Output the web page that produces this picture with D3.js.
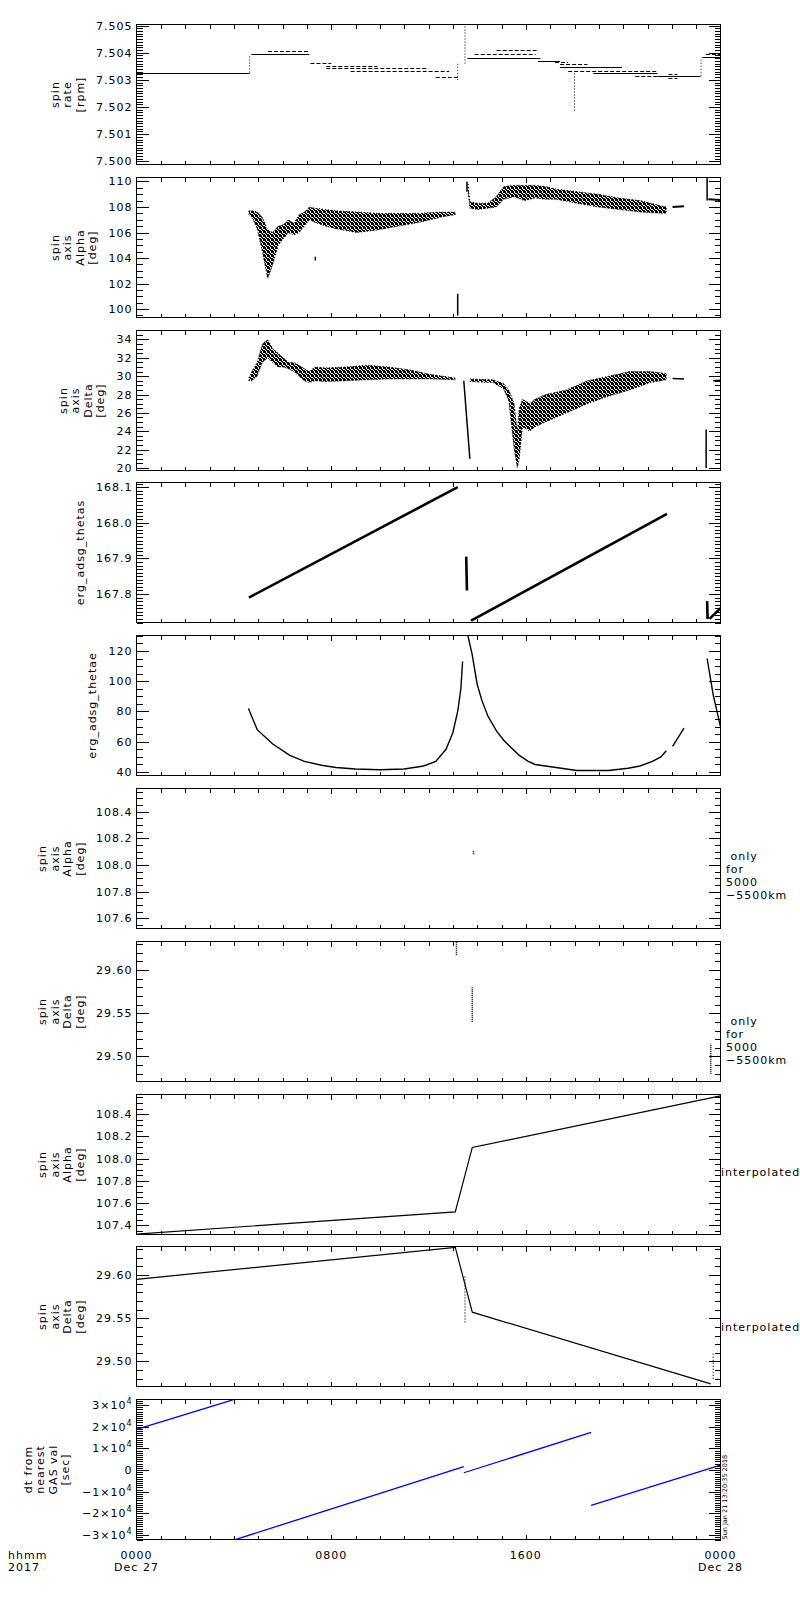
<!DOCTYPE html>
<html><head><meta charset="utf-8">
<script src="https://cdn.jsdelivr.net/npm/d3@7/dist/d3.min.js"></script>
<style>
html,body{margin:0;padding:0;background:#fff;}
svg text{font-family:"DejaVu Sans",sans-serif;fill:#000;}
</style></head><body>
<svg id="chart" width="800" height="1600"></svg>
<script>
// ---------------- data ----------------
const xTickHours = [0, 8, 16, 24];
const xTickTimes = ["0000", "0800", "1600", "0000"];
const xTickDates = ["Dec 27", "", "", "Dec 28"];

// panel 1: spin rate [rpm]
const rateTicks = [7.500, 7.501, 7.502, 7.503, 7.504, 7.505];
const rateSolid = [ // [startHour, endHour, rpm]
  [0, 4.65, 7.50327], [4.72, 7.10, 7.50394], [13.6, 16.6, 7.50381], [16.5, 17.4, 7.50370],
  [17.4, 19.95, 7.50346], [18.77, 21.41, 7.50324], [21.41, 23.18, 7.50315], [23.26, 24, 7.50383]
];
const rateBroken = [
  [5.4, 7.1, 7.50405], [7.15, 8.0, 7.50362], [7.8, 9.9, 7.50352], [7.8, 12.0, 7.50344],
  [8.8, 12.85, 7.50333], [12.3, 13.2, 7.50312], [13.9, 16.4, 7.50394], [14.8, 16.5, 7.50410],
  [17.41, 18.53, 7.50358], [17.2, 17.74, 7.50365], [17.74, 21.41, 7.50333], [20.5, 21.41, 7.50316],
  [21.86, 22.23, 7.50321], [21.86, 22.23, 7.50305], [23.4, 24, 7.50396]
];
const rateJumps = [ // [hour, low rpm, high rpm]
  [4.65, 7.50327, 7.50394], [13.2, 7.50300, 7.50360], [13.5, 7.50360, 7.50504],
  [18.0, 7.50187, 7.50328], [23.2, 7.50315, 7.50383]
];

// panel 2: spin axis Alpha [deg]  (band: [hour, low, high])
const alphaTicks = [100, 102, 104, 106, 108, 110];
const alphaBandA = [
  [4.62,107.4,107.7],[4.75,107.2,107.7],[4.96,106.3,107.6],[5.17,104.5,107.2],[5.39,102.4,106.2],
  [5.6,103.5,106.0],[5.82,105.0,106.5],[6.03,105.5,106.6],[6.25,106.0,107.0],[6.47,105.8,106.7],
  [6.68,106.0,107.4],[6.9,106.5,107.6],[7.11,107.0,108.0],[7.33,106.8,107.9],[7.76,106.5,107.8],
  [8.19,106.3,107.7],[9.05,106.0,107.6],[9.91,106.2,107.5],[10.78,106.5,107.5],[11.64,106.8,107.5],
  [12.5,107.2,107.6],[13.1,107.4,107.6]
];
const alphaBandB = [
  [13.62,109.3,109.8],[13.7,107.9,108.4],[14.0,107.8,108.3],[14.44,107.9,108.3],[14.78,108.0,108.8],
  [15.09,108.6,109.6],[15.52,108.8,109.7],[15.95,108.5,109.7],[16.38,108.7,109.7],[16.81,108.6,109.6],
  [17.24,108.6,109.4],[18.1,108.3,109.2],[18.97,108.0,109.0],[19.83,107.8,108.7],[20.69,107.6,108.5],
  [21.55,107.5,108.1],[21.77,107.5,108.0]
];
const alphaPieces = [[[22.03,108.0],[22.5,108.05]], [[23.5,108.6],[24,108.55]]];
const alphaJumps = [[13.2, 99.5, 101.2], [13.58, 109.2, 110.0], [23.45, 108.5, 110.3], [7.35, 103.8, 104.1]];

// panel 3: spin axis Delta [deg]
const deltaTicks = [20, 22, 24, 26, 28, 30, 32, 34];
const deltaBandA = [
  [4.62,29.5,29.8],[4.74,29.5,30.5],[4.96,30.0,31.5],[5.17,31.5,33.5],[5.39,32.0,34.0],[5.6,31.5,33.0],
  [5.82,31.0,32.5],[6.03,31.0,32.0],[6.25,30.8,31.5],[6.47,30.5,31.5],[6.68,30.0,31.2],[6.9,29.5,30.8],
  [7.11,29.3,30.5],[7.33,29.5,31.0],[7.76,29.4,30.9],[8.62,29.5,31.0],[9.48,29.6,31.2],[10.34,29.7,31.0],
  [11.21,29.7,30.7],[12.07,29.7,30.2],[13.1,29.6,29.8]
];
const deltaBandB = [
  [13.71,29.4,29.7],[14.66,29.3,29.6],[15.09,28.6,29.2],[15.3,27.3,28.5],[15.52,22.0,27.0],[15.65,20.0,24.0],
  [15.73,21.0,26.5],[15.86,24.5,27.5],[16.16,24.0,27.0],[16.38,24.5,27.5],[16.81,25.0,28.0],[17.67,26.0,28.5],
  [18.53,27.0,29.5],[19.4,27.8,30.0],[20.26,28.5,30.5],[21.12,29.3,30.5],[21.77,29.6,30.3]
];
const deltaPieces = [[[13.45,29.5],[13.7,21.0]], [[22.03,29.75],[22.5,29.7]], [[23.7,29.5],[24,29.55]]];
const deltaJumps = [[23.41, 20.0, 24.2]];

// panel 4: erg_adsg_thetas
const thetasTicks = [167.8, 167.9, 168.0, 168.1];
const thetasPieces = [
  [[4.62,167.79],[13.2,168.10]], [[13.55,167.905],[13.58,167.81]],
  [[13.75,167.725],[21.8,168.025]], [[23.45,167.78],[23.47,167.73]], [[23.55,167.73],[24,167.76]]
];

// panel 5: erg_adsg_thetae
const thetaeTicks = [40, 60, 80, 100, 120];
const thetaePieces = [
  [[4.6,82],[4.96,68],[5.6,58.5],[6.3,51],[6.9,47],[7.6,44.5],[8.2,43],[9.0,42],[10.0,41.5],[11.0,42],
   [11.8,44],[12.3,47],[12.72,55],[13.0,66],[13.2,80],[13.33,95],[13.4,113]],
  [[13.62,130],[13.79,118],[14.0,98],[14.2,87],[14.44,77],[14.8,67],[15.09,61],[15.4,56],[15.73,51],
   [16.1,47],[16.38,45],[17.24,43],[18.1,41],[19.4,41],[20.2,42.5],[20.69,44],[21.2,47],[21.55,50],[21.77,54]],
  [[22.03,57],[22.5,69]],
  [[23.45,115],[23.7,91],[24,70]]
];

// panel 6: spin axis Alpha, only 5000-5500 km
const alphaOnlyTicks = [107.6, 107.8, 108.0, 108.2, 108.4];
const alphaOnly = [[13.85, 108.08, 108.11]];

// panel 7: spin axis Delta, only 5000-5500 km
const deltaOnlyTicks = [29.50, 29.55, 29.60];
const deltaOnly = [[13.15, 29.617, 29.633], [13.8, 29.54, 29.58], [23.6, 29.48, 29.515]];

// panel 8: spin axis Alpha interpolated
const alphaInterpTicks = [107.4, 107.6, 107.8, 108.0, 108.2, 108.4];
const alphaInterp = [[0,107.32],[13.1,107.52],[13.8,108.1],[24,108.565]];

// panel 9: spin axis Delta interpolated
const deltaInterpTicks = [29.50, 29.55, 29.60];
const deltaInterp = [[0,29.595],[13.1,29.632],[13.8,29.557],[23.6,29.474]];
const deltaInterpJumps = [[13.5, 29.545, 29.6], [23.7, 29.48, 29.51]];

// panel 10: dt from nearest GAS val [sec]
const dtTicks = [-30000, -20000, -10000, 0, 10000, 20000, 30000];
const dtPieces = [
  [[0,18780],[3.96,32400]], [[3.96,-32400],[13.45,1600]],
  [[13.45,-1200],[18.68,17400]], [[18.68,-16300],[24,2300]]
];

// ---------------- layout ----------------
const svg = d3.select("#chart");
const X0 = 136.5, X1 = 720.5, PH = 140;
const x = d3.scaleLinear().domain([0, 24]).range([X0, X1]);
const fs = 11, ls = 1;
const noteOnly = [" only","for","5000","\u22125500km"];

const panels = [
  {dom:[7.49988,7.50504], ticks:rateTicks, minor:0.0001, fmt:d3.format(".3f"), label:["spin","rate","[rpm]"]},
  {dom:[99.34,110.31], ticks:alphaTicks, minor:0.5, fmt:d3.format("d"), label:["spin","axis","Alpha","[deg]"]},
  {dom:[19.72,34.98], ticks:deltaTicks, minor:0.5, fmt:d3.format("d"), label:["spin","axis","Delta","[deg]"]},
  {dom:[167.72,168.113], ticks:thetasTicks, minor:0.01, fmt:d3.format(".1f"), label:["erg_adsg_thetas"]},
  {dom:[37.7,130.2], ticks:thetaeTicks, minor:5, fmt:d3.format("d"), label:["erg_adsg_thetae"]},
  {dom:[107.523,108.573], ticks:alphaOnlyTicks, minor:0.05, fmt:d3.format(".1f"), label:["spin","axis","Alpha","[deg]"], note:noteOnly, noteY:71},
  {dom:[29.471,29.633], ticks:deltaOnlyTicks, minor:0.01, fmt:d3.format(".2f"), label:["spin","axis","Delta","[deg]"], note:noteOnly, noteY:83},
  {dom:[107.316,108.577], ticks:alphaInterpTicks, minor:0.05, fmt:d3.format(".1f"), label:["spin","axis","Alpha","[deg]"], note:["interpolated"], noteY:81},
  {dom:[29.471,29.633], ticks:deltaInterpTicks, minor:0.01, fmt:d3.format(".2f"), label:["spin","axis","Delta","[deg]"], note:["interpolated"], noteY:84},
  {dom:[-32000,32600], ticks:dtTicks, minor:1000, fmt:null, label:["dt from","nearest","GAS val","[sec]"]}
];

// stipple pattern for dense scatter bands (irregular 4x4 speckle)
const defs = svg.append("defs");
const pat = defs.append("pattern").attr("id","speck").attr("width",4).attr("height",4).attr("patternUnits","userSpaceOnUse");
[[0,0],[1,0],[3,0],[1,1],[2,1],[0,2],[2,2],[3,2],[0,3],[1,3],[3,3]].forEach(c =>
  pat.append("rect").attr("x",c[0]).attr("y",c[1]).attr("width",1).attr("height",1).attr("fill","#000"));

const line = (y) => d3.line().x(d => x(d[0])).y(d => y(d[1]));

panels.forEach((p, i) => {
  const top = Math.round(24 + i * 152.8) + 0.5, bot = top + PH;
  p.top = top; p.bot = bot;
  const y = d3.scaleLinear().domain(p.dom).range([bot, top]);
  p.y = y;
  const g = svg.append("g").attr("class", "panel" + i);
  defs.append("clipPath").attr("id", "clip" + i).append("rect")
    .attr("x", X0).attr("y", top).attr("width", X1 - X0).attr("height", PH);
  p.data = g.append("g").attr("clip-path", "url(#clip" + i + ")");

  // minor y ticks
  const minors = d3.range(Math.ceil(p.dom[0] / p.minor - 1e-6), Math.floor(p.dom[1] / p.minor + 1e-6) + 1).map(k => k * p.minor);
  const ax = g.append("g").attr("stroke", "#000").attr("stroke-width", 1).attr("shape-rendering", "crispEdges");
  minors.forEach(v => {
    const yy = Math.round(y(v)) + 0.5;
    ax.append("line").attr("x1", X0).attr("x2", X0 + 6).attr("y1", yy).attr("y2", yy);
    ax.append("line").attr("x1", X1).attr("x2", X1 - 6).attr("y1", yy).attr("y2", yy);
  });
  p.ticks.forEach(v => {
    const yy = Math.round(y(v)) + 0.5;
    ax.append("line").attr("x1", X0).attr("x2", X0 + 12).attr("y1", yy).attr("y2", yy);
    ax.append("line").attr("x1", X1).attr("x2", X1 - 12).attr("y1", yy).attr("y2", yy);
  });
  // hourly x ticks, top & bottom
  d3.range(1, 24).forEach(h => {
    const xx = Math.round(x(h)) + 0.5;
    const len = (h % 8 === 0) ? 5 : 4;
    ax.append("line").attr("x1", xx).attr("x2", xx).attr("y1", bot).attr("y2", bot - len);
    ax.append("line").attr("x1", xx).attr("x2", xx).attr("y1", top).attr("y2", top + len);
  });
  ax.append("rect").attr("x", X0).attr("y", top).attr("width", X1 - X0).attr("height", PH).attr("fill", "none");

  // tick labels
  const tl = g.append("g").attr("font-size", fs).attr("letter-spacing", ls).attr("text-anchor", "end");
  let minLeft = X0;
  p.ticks.forEach(v => {
    const t = tl.append("text").attr("x", X0 - 4).attr("y", y(v) + 4);
    if (p.fmt) t.text(p.fmt(v));
    else {
      if (v === 0) t.text("0");
      else {
        t.text((v < 0 ? "\u2212" : "") + Math.abs(v / 10000) + "\u00d710");
        t.append("tspan").attr("dy", -5).attr("font-size", 8).text("4");
      }
    }
    minLeft = Math.min(minLeft, t.node().getBBox().x);
  });
  // y axis title (rotated, multi-line)
  const n = p.label.length, lh = 12.5;
  const lastBase = minLeft - 12.5;
  const cy = (top + bot) / 2;
  p.label.forEach((s, k) => {
    const bx = lastBase - (n - 1 - k) * lh;
    g.append("text").attr("font-size", fs).attr("letter-spacing", ls).attr("text-anchor", "middle")
      .attr("transform", `translate(${bx},${cy}) rotate(-90)`).text(s);
  });
  // right-side notes
  if (p.note) {
    p.note.forEach((s, k) => {
      g.append("text").attr("font-size", fs).attr("letter-spacing", ls).attr("x", p.note.length > 1 ? 726 : 721)
        .attr("y", top + p.noteY + k * 13).style("white-space", "pre").text(s);
    });
  }
});

// ---------------- marks ----------------
function levels(p, arr, dash) {
  p.data.selectAll(null).data(arr).enter().append("line")
    .attr("x1", d => x(d[0])).attr("x2", d => x(d[1]))
    .attr("y1", d => Math.round(p.y(d[2])) + 0.5).attr("y2", d => Math.round(p.y(d[2])) + 0.5)
    .attr("stroke", "#000").attr("stroke-width", 1).attr("stroke-dasharray", dash);
}
function jumps(p, arr, dash, w) {
  p.data.selectAll(null).data(arr).enter().append("line")
    .attr("x1", d => x(d[0])).attr("x2", d => x(d[0]))
    .attr("y1", d => p.y(d[1])).attr("y2", d => p.y(d[2]))
    .attr("stroke", "#000").attr("stroke-width", w || 1).attr("stroke-dasharray", dash);
}
function band(p, arr) {
  const a = d3.area().x(d => x(d[0])).y0(d => p.y(d[1])).y1(d => p.y(d[2]));
  p.data.append("path").attr("d", a(arr)).attr("fill", "url(#speck)")
    .attr("stroke", "#000").attr("stroke-width", 1).attr("stroke-dasharray", "1,2");
}
function pieces(p, arr, w, color) {
  p.data.selectAll(null).data(arr).enter().append("path")
    .attr("d", line(p.y)).attr("fill", "none").attr("stroke", color || "#000").attr("stroke-width", w);
}

const P = panels;
levels(P[0], rateSolid, null);
levels(P[0], rateBroken, "4,2");
jumps(P[0], rateJumps, "1,2");

band(P[1], alphaBandA); band(P[1], alphaBandB);
pieces(P[1], alphaPieces, 2);
jumps(P[1], alphaJumps, null, 1.5);

band(P[2], deltaBandA); band(P[2], deltaBandB);
pieces(P[2], deltaPieces, 1.5);
jumps(P[2], deltaJumps, null, 1.5);

pieces(P[3], thetasPieces, 2.6);

pieces(P[4], thetaePieces, 1.4);

jumps(P[5], alphaOnly, "1,1", 1.5);
jumps(P[6], deltaOnly, "1,1", 1.5);

pieces(P[7], [alphaInterp], 1.2);
pieces(P[8], [deltaInterp], 1.2);
jumps(P[8], deltaInterpJumps, "1,2", 1.2);

pieces(P[9], dtPieces, 1.3, "#0000ff");

// ---------------- bottom time axis ----------------
const bx = svg.append("g").attr("font-size", fs).attr("letter-spacing", ls);
const lastBot = P[9].bot;
xTickHours.forEach((h, k) => {
  bx.append("text").attr("x", x(h)).attr("y", lastBot + 19).attr("text-anchor", "middle").text(xTickTimes[k]);
  if (xTickDates[k]) bx.append("text").attr("x", x(h)).attr("y", lastBot + 31).attr("text-anchor", "middle").text(xTickDates[k]);
});
bx.append("text").attr("x", 8).attr("y", lastBot + 19).text("hhmm");
bx.append("text").attr("x", 8).attr("y", lastBot + 31).text("2017");

// creation stamp
svg.append("text").attr("font-size", 6.5).attr("transform", `translate(727,${lastBot}) rotate(-90)`).text("Sun Jan 21 13:20:35 2018");
</script>
</body></html>
